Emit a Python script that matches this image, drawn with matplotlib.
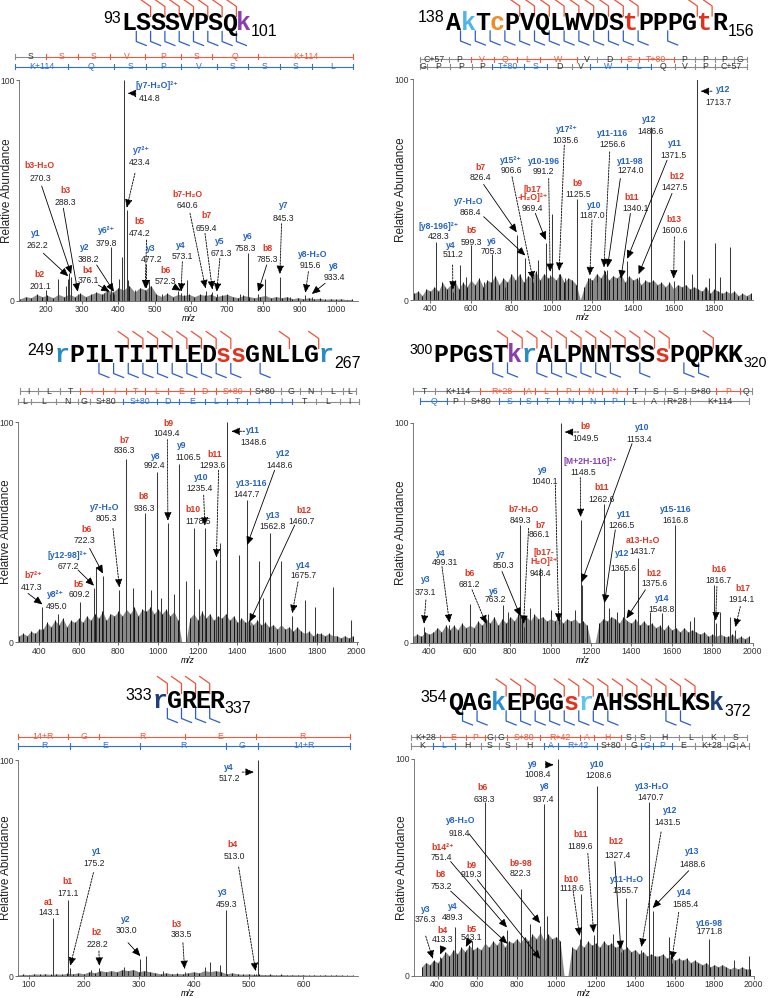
import numpy as np
import matplotlib.pyplot as plt
from matplotlib.lines import Line2D
from matplotlib.transforms import blended_transform_factory

plt.rcParams['font.family'] = ['Liberation Sans', 'DejaVu Sans']

W, H = 768, 998
RED = '#e2311d'
BLUE = '#2363c1'
PURPLE = '#8a3fae'
MARK_RED = '#ef5238'
MARK_BLUE = '#2c5fc6'
LAD_RED = '#ef5a3c'
LAD_BLUE = '#2f6fd6'
GREY = '#8c8c8c'

# ---------------- panel 1 : 93-101 ----------------
p1_seq = 'LSSSVPSQk'
p1_res_col = {8: PURPLE}
p1_range = (93, 101)
p1_bcut = [2, 3, 4, 5, 6, 7, 8]
p1_ycut = [1, 2, 3, 4, 5, 6, 7, 8]
p1_b_ticks = [115, 201.1, 288.3, 376.1, 474.2, 572.3, 659.4, 785.3, 1048]
p1_b_res = ['S', 'S', 'S', 'V', 'P', 'S', 'Q', 'K+114']
p1_b_hit = [0, 1, 1, 1, 1, 1, 1, 1]
p1_y_ticks = [115, 262.2, 388.2, 477.2, 573.1, 671.3, 758.3, 845.3, 933.4, 1048]
p1_y_res = ['K+114', 'Q', 'S', 'P', 'V', 'S', 'S', 'S', 'L']
p1_y_hit = [1, 1, 1, 1, 1, 1, 1, 1, 1]
p1_ions = ['[y7-H₂O]²⁺', 'y7²⁺', 'b3-H₂O', 'b3', 'y1', 'y2', 'y6²⁺', 'b2', 'b4',
           'b5', 'y3', 'b6', 'y4', 'b7-H₂O', 'b7', 'y5', 'y6', 'b8', 'y7',
           'y8-H₂O', 'y8']
p1_ion_mz = [414.8, 423.4, 270.3, 288.3, 262.2, 388.2, 379.8, 201.1, 376.1,
             474.2, 477.2, 572.3, 573.1, 640.6, 659.4, 671.3, 758.3, 785.3,
             845.3, 915.6, 933.4]
p1_ion_int = [100, 41, 11, 3, 10, 3, 24.5, 5, 3, 4.5, 4.5, 3.5, 3, 4.5, 4, 3,
              21.5, 3, 11, 2.5, 2]
p1_mz = [235, 256, 264, 361, 370, 403, 409, 427, 445, 486, 520, 564, 590, 735,
         804, 873]
p1_int = [10, 7, 12.5, 3.5, 5, 10, 20, 9.5, 5, 9, 3, 4.5, 9.5, 3, 10, 2]
p1_noise = [1, 2, 1.5, 3, 2, 2.5, 1.5, 3, 2,
            3, 2, 3.5, 2, 3, 4, 3, 5, 4, 6,
            5, 7, 4, 6, 5, 7,
            3, 2, 3.5, 2, 3, 2.5, 3, 2, 3, 2.5, 3, 2, 2.5, 3,
            2, 1.5, 2.5, 2, 1.5, 2, 2.5, 1.5, 2, 1.5, 2, 1, 1.5,
            1, 1.5, 1, 1.2, 0.8, 1, 0.8, 1, 0.6, 0.8]

# ---------------- panel 2 : 138-156 ----------------
p2_seq = 'AkTcPVQLWVDStPPPGtR'
p2_res_col = {1: '#4db6e6', 3: '#f08c28', 12: RED, 17: RED}
p2_range = (138, 156)
p2_bcut = [5, 6, 7, 8, 9, 10, 11, 12, 13, 17, 18]
p2_ycut = [1, 2, 3, 4, 5, 6, 7, 8, 9, 10, 11, 12, 13, 15]
p2_b_ticks = [347, 490, 599.3, 712.5, 826.4, 939, 1125.5, 1224, 1340.1, 1427.5,
              1600.6, 1707.6, 1806, 1897, 1962]
p2_b_res = ['C+57', 'P', 'V', 'Q', 'L', 'W', 'V', 'D', 'S', 'T+80', 'P', 'P',
            'P', 'G']
p2_b_hit = [0, 0, 1, 1, 1, 1, 0, 0, 1, 1, 0, 0, 0, 0]
p2_y_ticks = [347, 383, 498.7, 605.6, 705.3, 860.5, 975.7, 1099, 1187.0, 1371.5,
              1486.6, 1609, 1707.6, 1806, 1962]
p2_y_res = ['G', 'P', 'P', 'P', 'T+80', 'S', 'D', 'V', 'W', 'L', 'Q', 'V', 'P',
            'C+57']
p2_y_hit = [0, 0, 0, 0, 1, 1, 0, 0, 1, 1, 0, 0, 0, 0]
p2_ions = ['y12', '[y8-196]²⁺', 'y4', 'b5', 'y6', 'b7', 'y7-H₂O', 'y15²⁺',
           'y10-196', '[b17\n-H₂O]²⁺', 'y17²⁺', 'b9', 'y10', 'y11-116',
           'y11-98', 'b11', 'y12', 'y11', 'b12', 'b13']
p2_ion_mz = [1713.7, 428.3, 511.2, 599.3, 705.3, 826.4, 868.4, 906.6, 991.2,
             969.4, 1035.6, 1125.5, 1187.0, 1256.6, 1274.0, 1340.1, 1486.6,
             1371.5, 1427.5, 1600.6]
p2_ion_int = [100, 26.4, 3.5, 25, 21, 29.5, 19, 8, 11.5, 26, 12, 46, 10, 13.6,
              13.6, 8.5, 78.5, 17.5, 10.5, 8.5]
p2_mz = [474, 548, 578, 663, 770, 930, 1000, 1066, 1222, 1650, 1691, 1757,
         1773, 1806, 1831, 1880]
p2_int = [6, 16, 10.6, 8, 6, 18, 39, 10, 8, 27, 12, 6, 10, 26, 10.6, 24]
p2_noise = [3, 4, 2, 5, 4,
            6, 4, 8, 5, 7, 9, 5, 8, 6, 9,
            7, 10, 6, 9, 8, 11, 7, 10, 8, 12,
            9, 12, 8, 11, 10, 13, 9, 12, 10, 11,
            9, 12, 8, 10, 9,
            7, 0, 6, 10, 9, 12, 10, 13, 9, 11,
            10, 12, 8, 11, 9, 10, 7, 9, 8, 9,
            7, 8, 6, 8, 5, 7, 6, 7, 5, 6,
            5, 4, 6, 3, 5, 4, 3, 4, 3, 4, 2, 3, 2, 3]

# ---------------- panel 3 : 249-267 ----------------
p3_seq = 'rPILTIITLEDssGNLLGr'
p3_res_col = {0: '#2a8cc4', 11: RED, 12: RED, 18: '#2a8cc4'}
p3_range = (249, 267)
p3_bcut = [5, 6, 7, 8, 9, 10, 11, 12, 16, 18]
p3_ycut = [3, 4, 5, 6, 7, 8, 9, 10, 11, 12, 14]
p3_b_ticks = [303, 395, 504, 609.2, 722.3, 836.3, 936.3, 1049.4, 1178.5, 1293.6,
              1460.7, 1621, 1713, 1822, 1932, 1995]
p3_b_res = ['I', 'L', 'T', 'I', 'I', 'T', 'L', 'E', 'D', 'S+80', 'S+80', 'G',
            'N', 'L', 'L']
p3_b_hit = [0, 0, 0, 1, 1, 1, 1, 1, 1, 1, 0, 0, 0, 0, 0]
p3_y_ticks = [295, 362, 488, 597, 655, 823, 992.4, 1106.5, 1235.4, 1348.6,
              1448.6, 1562.8, 1675.7, 1797, 1915, 2012]
p3_y_res = ['L', 'L', 'N', 'G', 'S+80', 'S+80', 'D', 'E', 'L', 'T', 'I', 'I',
            'T', 'L', 'I']
p3_y_hit = [0, 0, 0, 0, 0, 1, 1, 1, 1, 1, 1, 1, 0, 0, 0]
p3_ions = ['b7²⁺', 'y8²⁺', '[y12-98]²⁺', 'b5', 'b6', 'y7-H₂O', 'b7', 'b8', 'y8',
           'b9', 'y9', 'b11', 'y10', 'b10', 'y11', 'y12', 'y13-116', 'y13',
           'b12', 'y14']
p3_ion_mz = [417.3, 495.0, 677.2, 609.2, 722.3, 805.3, 836.3, 936.3, 992.4,
             1049.4, 1106.5, 1293.6, 1235.4, 1178.5, 1348.6, 1448.6, 1447.7,
             1562.8, 1460.7, 1675.7]
p3_ion_int = [16, 13, 24.5, 18.4, 30, 23.7, 83.4, 58.5, 77.3, 54, 81, 37.3,
              51.7, 51.7, 100, 43, 64.5, 49.4, 8, 12]
p3_mz = [689, 873.8, 966, 1016, 1080, 1142, 1205, 1310, 1408, 1508, 1530, 1621,
         1738, 1789, 1881, 1973.5]
p3_int = [34, 24.5, 23.7, 20, 22, 28, 24, 45, 39.6, 37, 20, 37, 19, 16, 25, 10]
p3_noise = [3, 4, 3, 5, 4, 6,
            6, 9, 7, 10, 8, 11, 7, 10, 9, 11,
            9, 12, 10, 13, 11, 14, 10, 13, 12, 14,
            12, 15, 13, 16, 12, 15, 14, 16, 13, 15,
            13, 15, 12, 14, 10,
            0, 0,
            11, 13, 10, 14, 11, 13, 10, 12,
            11, 13, 10, 12, 9, 11, 9, 10, 8, 10,
            8, 9, 7, 8, 6, 8, 6, 7, 5, 7,
            5, 4, 5, 3, 4, 4, 3, 4, 3, 3, 2, 3, 2, 3]

# ---------------- panel 4 : 300-320 ----------------
p4_seq = 'PPGSTkrALPNNTSSsPQPKK'
p4_res_col = {5: PURPLE, 6: '#2a8cc4', 15: RED}
p4_range = (300, 320)
p4_bcut = [5, 6, 7, 8, 9, 10, 11, 12, 13, 14, 15, 16, 19]
p4_ycut = [4, 5, 7, 8, 9, 10, 11, 12, 14, 17, 18]
p4_b_ticks = [319, 429.5, 652, 866.1, 924, 1031.6, 1138.8, 1254, 1375.6,
              1468.7, 1567.7, 1666.7, 1816.7, 1939, 1996.6]
p4_b_res = ['T', 'K+114', 'R+28', 'A', 'L', 'P', 'N', 'N', 'T', 'S', 'S',
            'S+80', 'P', 'Q']
p4_b_hit = [0, 0, 1, 1, 1, 1, 1, 1, 0, 0, 0, 0, 1, 0]
p4_y_ticks = [355, 487, 569.8, 743, 850.3, 932.6, 1040.1, 1153.4, 1262.5,
              1365.6, 1460.5, 1559.4, 1691.4, 1980]
p4_y_res = ['Q', 'P', 'S+80', 'S', 'S', 'T', 'N', 'N', 'P', 'L', 'A', 'R+28',
            'K+114']
p4_y_hit = [1, 0, 0, 1, 1, 1, 1, 1, 1, 0, 0, 0, 0]
p4_ions = ['y3', 'y4', 'b6', 'y6', 'y7', 'b7-H₂O', 'b7', '[b17-\nH₂O]²⁺', 'y9',
           'b9', '[M+2H-116]²⁺', 'y10', 'b11', 'y11', 'y12', 'a13-H₂O', 'b12',
           'y15-116', 'y14', 'b16', 'b17']
p4_ion_mz = [373.1, 499.31, 681.2, 763.2, 850.3, 849.3, 866.1, 948.4, 1040.1,
             1049.5, 1148.5, 1153.4, 1262.6, 1266.5, 1365.6, 1431.7, 1375.6,
             1616.8, 1548.8, 1816.7, 1914.1]
p4_ion_int = [7.5, 8, 7.5, 17.4, 11, 53.6, 7.5, 34, 8.5, 100, 56, 26.4, 63.4,
              17, 33, 38.5, 10, 53.6, 13.6, 9, 6]
p4_mz = [602.7, 690, 790, 900, 1000, 1122, 1290, 1328, 1490, 1690, 1708, 1807,
         1840, 1889]
p4_int = [17.8, 13, 14, 16, 15, 15, 16, 14, 14, 10, 12, 26.4, 14, 12]
p4_noise = [3, 4, 3, 5, 4,
            5, 7, 5, 8, 6, 8, 6, 9, 7, 8,
            7, 10, 8, 11, 9, 12, 8, 11, 9, 12,
            10, 13, 11, 12, 10, 13, 11, 12, 10, 11,
            10, 12, 9, 11, 10, 11, 9, 10, 8,
            0, 0,
            9, 11, 10, 12,
            11, 9, 12, 10, 9, 11, 8, 10, 8, 9,
            7, 8, 6, 8, 6, 7, 5, 7, 5, 6,
            5, 4, 5, 3, 4, 3, 4, 3, 3, 4, 2, 3, 2, 3]

# ---------------- panel 5 : 333-337 ----------------
p5_seq = 'rGRER'
p5_res_col = {0: '#1f3f7a'}
p5_range = (333, 337)
p5_bcut = [1, 2, 3, 4]
p5_ycut = [1, 2, 3, 4]
p5_b_ticks = [80, 171.1, 228.2, 383.5, 513.0, 684.5]
p5_b_res = ['14+R', 'G', 'R', 'E', 'R']
p5_b_hit = [1, 1, 1, 1, 1]
p5_y_ticks = [80, 175.2, 303.0, 459.3, 517.2, 684.5]
p5_y_res = ['R', 'E', 'R', 'G', '14+R']
p5_y_hit = [1, 1, 1, 1, 1]
p5_ions = ['a1', 'b1', 'y1', 'b2', 'y2', 'b3', 'y3', 'b4', 'y4']
p5_ion_mz = [143.1, 171.1, 175.2, 228.2, 303.0, 383.5, 459.3, 513.0, 517.2]
p5_ion_int = [26.7, 35.3, 3.5, 3.5, 8, 2, 30.5, 1, 100]
p5_mz = [213.6, 272.5, 280.4, 312.6, 344, 420, 430.4, 448.6]
p5_int = [3, 4, 2.5, 9.4, 2.5, 4, 6.6, 5]
p5_noise = [0.5, 0.8, 0.6, 1, 0.8, 1, 0.7, 1, 0.8, 1.2, 1, 1.5, 1,
            2, 1.5, 2.5, 2, 2.5, 2, 3, 2.5, 3, 2, 2.5, 2,
            1.5, 1, 1.5, 1, 1.2, 1, 1.5, 2, 1.5, 2.5, 2, 2.5, 2,
            1, 1.5, 1, 0.8, 1, 0.7, 0.8, 0.6, 0.8, 0.5, 0.7, 0.5, 0.6, 0.5,
            0.6, 0.4, 0.5, 0.4, 0.5, 0.4, 0.5, 0.4, 0.3, 0.4]

# ---------------- panel 6 : 354-372 ----------------
p6_seq = 'QAGkEPGGsrAHSSHLKSk'
p6_res_col = {3: '#2a8fd4', 8: RED, 9: '#5cc6ee', 18: '#1f3f7a'}
p6_range = (354, 372)
p6_bcut = [4, 5, 6, 8, 9, 10, 11, 12, 13, 14, 15, 16, 17]
p6_ycut = [1, 2, 4, 5, 6, 7, 8, 9, 10, 11, 15, 16]
p6_b_ticks = [264, 413.3, 543.1, 638.3, 690.5, 753.2, 919.3, 1118.6, 1189.6,
              1327.4, 1401.3, 1477.1, 1620.3, 1738.2, 1847.7, 1965.6]
p6_b_res = ['K+28', 'E', 'P', 'G', 'G', 'S+80', 'R+42', 'A', 'H', 'S', 'S',
            'H', 'L', 'K', 'S']
p6_b_hit = [0, 1, 1, 0, 0, 1, 1, 1, 1, 0, 0, 0, 0, 0, 0]
p6_y_ticks = [264, 376.3, 489.3, 618.1, 710.7, 794.9, 937.4, 1008.4, 1208.6,
              1350.8, 1431.5, 1488.6, 1585.4, 1704.5, 1864.5, 1915, 1974]
p6_y_res = ['K', 'L', 'H', 'S', 'S', 'H', 'A', 'R+42', 'S+80', 'G', 'G', 'P',
            'E', 'K+28', 'G', 'A']
p6_y_hit = [0, 1, 0, 0, 0, 0, 1, 1, 0, 0, 1, 1, 0, 0, 0, 0]
p6_ions = ['y9', 'y8', 'y10', 'y13-H₂O', 'y12', 'b6', 'y8-H₂O', 'b14²⁺', 'b9',
           'b9-98', 'b8', 'b11', 'b12', 'b10', 'y11-H₂O', 'y13', 'y14',
           'y16-98', 'y3', 'y4', 'b4', 'b5']
p6_ion_mz = [1008.4, 937.4, 1208.6, 1470.7, 1431.5, 638.3, 918.4, 751.4, 919.3,
             822.3, 753.2, 1189.6, 1327.4, 1118.6, 1355.7, 1488.6, 1585.4,
             1771.8, 376.3, 489.3, 413.3, 543.1]
p6_ion_int = [100, 79, 87.4, 80, 12, 80, 23, 21, 6.5, 39.8, 13.5, 18.5, 11, 17,
              36, 30, 6, 17, 6.5, 22.4, 8.5, 12]
p6_mz = [575, 870, 951.6, 1125, 1288, 1569.7, 1898, 1974]
p6_int = [16, 24, 27.7, 37.5, 19, 17.9, 7, 8.8]
p6_noise = [4, 6, 5, 7, 6,
            8, 11, 9, 12, 10, 13, 11, 14, 12, 13,
            12, 15, 13, 16, 14, 17, 13, 16, 15, 17,
            15, 18, 16, 19, 17, 20, 16, 19, 17, 18,
            16,
            0, 0,
            13, 12, 15, 13, 16, 14, 15, 13, 16, 14, 15, 13,
            14, 12, 13, 11, 12, 10, 11, 9, 10, 9,
            9, 10, 8, 9, 7, 8, 7, 8, 6, 7,
            6, 5, 6, 4, 5, 4, 5, 4, 3, 4, 3, 4, 3, 3]

# ---------------- layout (label name xy, value xy, arrow tail xy, style) ----
N = (None, None, None)
p1_lab = [(506, 97.3, 487.5, 91.7, 446, 94, 'h'),
          (464.5, 67.9, 460, 62.6, 446, 57.8, ':'),
          (181.6, 61.1, 186, 55.5, 189, 52, '-'),
          (254, 50.2, 255, 44.6, 248.7, 42, '-'),
          (172, 30.6, 178, 25.3, 193.6, 21.6, '-'),
          (308, 24.1, 317.6, 18.6, 340.5, 16.3, '-'),
          (368, 31.8, 368, 26.1) + N,
          (181.6, 11.8, 184.4, 6.5) + N,
          (315, 14, 317.6, 9.5, 345, 7.2, '-'),
          (458, 35.9, 460, 30.6, 478, 27.6, ':'),
          (489, 23.8, 492, 18.6, 478, 16.3, ':'),
          (529, 14, 529, 9, 552, 6.5, '-'),
          (572, 25.3, 576.6, 20, 576.6, 17.8, ':'),
          (591, 48, 591, 43, 597.7, 39.7, ':'),
          (643.6, 38.5, 643.6, 32.9, 639, 30.6, ':'),
          (680, 26.8, 685, 21.6, 680, 19.3, ':'),
          (755.7, 29.1, 751, 23.8) + N,
          (811, 23.8, 811, 19, 809, 16.3, '-'),
          (855, 43, 855, 37.4, 850, 35, ':'),
          (935, 21.1, 928, 16.1, 924, 13.3, ':'),
          (994.5, 15.5, 994.5, 10.6, 970, 8, '-')]
p2_lab = [(1847, 95.5, 1823, 89.6, 1790, 94.7, 'h'),
          (441, 33.5, 441, 28.7) + N,
          (500, 24.8, 510, 20.6, 510, 15.9, ':'),
          (600.7, 31.3, 600.7, 26.1) + N,
          (704, 26.7, 699, 21.9) + N,
          (646.7, 60, 646.7, 55.4, 663, 52.4, '-'),
          (589, 44.6, 597, 39.6, 663, 37.8, '-'),
          (798, 63.4, 798, 58.6, 803, 55.9, ':'),
          (962.5, 63, 956, 58.2, 984, 55.1, ':'),
          (905, 48.3, 901.6, 41.5, 918, 39.3, '-'),
          (1074, 77.3, 1066, 72.5, 1061, 70.2, ':'),
          (1127, 52.9, 1132, 47.9) + N,
          (1206, 43, 1197.7, 38.5, 1197.7, 36.3, ':'),
          (1301, 75.5, 1301, 70.7, 1285, 67.2, ':'),
          (1387, 62.7, 1387, 58.6, 1337.5, 55.1, '-'),
          (1395, 46.4, 1411.5, 41.5, 1387, 39.3, '-'),
          (1480.6, 81.9, 1485.5, 76.3) + N,
          (1609, 71, 1600.7, 65.4, 1568, 63.4, '-'),
          (1617, 55.9, 1604, 51, 1592.4, 48.3, '-'),
          (1600.7, 36.3, 1604, 31.7, 1604, 28.7, ':')]
p3_lab = [(370, 30.5, 361.7, 24.8, 345, 22.2, '-'),
          (484, 21.5, 491, 16.2) + N,
          (546, 39.6, 546, 34.3, 597, 32.8, '-'),
          (597, 26.4, 605, 21.5) + N,
          (638.7, 51.2, 630, 46.4, 655.5, 42.6, '-'),
          (731, 61, 739.4, 56.2, 773, 51.7, ':'),
          (831.8, 91.7, 831.8, 87.2) + N,
          (927.5, 66.3, 932.5, 60.7) + N,
          (986, 84.4, 983, 80.4) + N,
          (1050, 99.2, 1041.7, 94.7, 1046.7, 92, ':'),
          (1117, 89.4, 1151, 84.1) + N,
          (1285, 85.2, 1276.7, 80.4, 1305, 78.1, ':'),
          (1218, 74.8, 1209.5, 69.8, 1229.7, 66.8, ':'),
          (1176, 60.4, 1201, 54.7) + N,
          (1478, 96.2, 1483, 90.9, 1436, 95.8, 'h'),
          (1629, 85.6, 1612.5, 80.4, 1587, 78.1, '-'),
          (1470, 72, 1444.6, 67.2) + N,
          (1579, 57.7, 1575.6, 52.4) + N,
          (1733.4, 60, 1721.6, 54.7, 1688, 53.2, '-'),
          (1730, 35, 1730, 30.5, 1705, 27.5, ':')]
p4_lab = [(380, 28.7, 380, 23.1, 383, 19.6, ':'),
          (457.6, 40.5, 479, 36.7, 462.5, 34.7, ':'),
          (599, 31.7, 599, 26.7, 611, 24.2, ':'),
          (718, 23.4, 726, 19.6) + N,
          (751, 39.7, 767.7, 35.2, 759.4, 32.5, '-'),
          (866.7, 60.7, 850, 55.9) + N,
          (949, 53.6, 946, 49.1, 891, 52.1, ':'),
          (965.6, 39.1, 949, 31.7) + N,
          (962.3, 78.2, 969, 73.6, 1023.5, 71.8, ':'),
          (1171.8, 98.5, 1171.8, 92.9, 1139, 95.9, 'h'),
          (1196.5, 82.6, 1163.6, 77.3, 1147, 75.2, ':'),
          (1452, 97.9, 1440.7, 92.4, 1402.7, 90.6, '-'),
          (1254.3, 70.5, 1254.3, 65.3) + N,
          (1361.5, 58.2, 1353, 53.2, 1320, 51.4, '-'),
          (1353, 40.8, 1358, 34) + N,
          (1457, 46.8, 1457, 41.5) + N,
          (1513, 31.7, 1513, 27.2, 1469, 24.2, '-'),
          (1617, 60.7, 1617, 55.6) + N,
          (1551, 20.4, 1551, 15.4) + N,
          (1831.6, 33.2, 1831.6, 28.2, 1823, 25.7, ':'),
          (1952, 24.9, 1947, 19.6, 1939, 16.6, ':')]
p5_lab = [(136.5, 34, 136.5, 29.3) + N,
          (171.1, 43.7, 171.1, 38.4) + N,
          (224, 57.7, 219.5, 52, 217.5, 47.9, ':'),
          (222.5, 20.2, 225.5, 14.7, 227.5, 11.6, ':'),
          (276, 26, 277.5, 21.1, 280.5, 15.4, '-'),
          (369.5, 23.7, 377.5, 19.2, 380.5, 15.4, ':'),
          (453.5, 38.8, 459.5, 33.2) + N,
          (471.5, 60.7, 474.5, 55.4, 482, 50.5, ':'),
          (464.5, 96.7, 465.5, 91.4, 488.5, 94.4, 'h')]
p6_lab = [(879.2, 97.6, 907.8, 93, 946.5, 97.3, 'h'),
          (941.5, 87.4, 934.7, 81.4) + N,
          (1207.6, 97.3, 1216, 92.3) + N,
          (1485.5, 87.4, 1477, 82.1) + N,
          (1578, 76.1, 1561.3, 70.8, 1531, 66.3, ':'),
          (626.5, 86.7, 638.3, 81.4) + N,
          (517, 71.6, 508.6, 65.8, 559, 65.5, '-'),
          (424.4, 59, 419.3, 54.6, 466.5, 52.6, '-'),
          (570.9, 50.7, 570.9, 46.6, 601, 44.3, '-'),
          (820, 51.9, 820, 47) + N,
          (416, 46.6, 419.3, 41.3, 466.5, 39, '-'),
          (1123.4, 65, 1123.4, 59.5, 1160.4, 56.4, ':'),
          (1303.6, 61.7, 1308.6, 55.4, 1296.9, 52.6, '-'),
          (1076.2, 44.3, 1081.3, 40.2, 1086.3, 39, ':'),
          (1359, 44.3, 1350.6, 39.3) + N,
          (1687.6, 57.5, 1687.6, 51.4, 1670.8, 48.4, '-'),
          (1645.5, 38.3, 1653.8, 33, 1620.3, 29.2, ':'),
          (1776.9, 24.2, 1776.9, 20.1) + N,
          (340.2, 30.7, 340.2, 25.7, 340.2, 18.2, ':'),
          (475, 31.9, 475, 26.9) + N,
          (424.4, 20.6, 424.4, 16.6, 429.4, 13.3, '-'),
          (570.9, 21.3, 570.9, 17.5, 554.1, 15.1, '-')]

fig = plt.figure(figsize=(W / 100, H / 100), dpi=100)


def fx(px):
    return px / W


def fy(py):
    return 1 - py / H


def ion_color(name):
    if name.startswith('y') or name.startswith('[y'):
        return BLUE
    if name.startswith('[M'):
        return PURPLE
    return RED


def make_axes(rect, xlim, xticks):
    l, t, r, b = rect
    ax = fig.add_axes([fx(l), fy(b), (r - l) / W, (b - t) / H])
    ax.set_xticks(xticks)
    ax.set_yticks([0, 100])
    for s in ['top', 'right']:
        ax.spines[s].set_visible(False)
    for s in ['left', 'bottom']:
        ax.spines[s].set_color('#666666')
        ax.spines[s].set_linewidth(0.6)
    ax.tick_params(labelsize=6.2, length=2, width=0.5, pad=1.2,
                   colors='#333333')
    ax.set_xlabel('m/z', fontsize=6.2, style='italic', labelpad=0)
    ax.set_ylabel('Relative Abundance', fontsize=8.5, color='#222222')
    ax.yaxis.set_label_coords(-0.018, 0.5)
    return ax


def spectrum(ax, noise, n0, step, mz, inten, ion_mz, ion_int):
    xs = np.arange(len(noise)) * step + n0
    ax.fill_between(xs, 0, noise, color='#8a8a8a', lw=0)
    ax.vlines(xs, 0, noise, color='#151515', lw=0.7)
    ax.vlines(mz, 0, inten, color='#3a3a3a', lw=0.75)
    ax.vlines(ion_mz, 0, ion_int, color='#3a3a3a', lw=0.75)


def annotate(ax, names, mzs, ints, labs):
    x0, x1 = ax.get_xlim()
    gap = 0.012 * (x1 - x0)
    for name, mz, it, lab in zip(names, mzs, ints, labs):
        nx, ny, vx, vy, tx, ty, st = lab
        ax.text(nx, ny, name, color=ion_color(name), fontweight='bold',
                fontsize=6.2, ha='center', va='center', linespacing=0.95)
        ax.text(vx, vy, str(mz), color='#222222', fontsize=6.2,
                ha='center', va='center')
        if st is None:
            continue
        if st == 'h':
            head = (mz + (gap if tx > mz else -gap), ty)
            ls = (0, (2.2, 1.4))
        else:
            head = (mz, it + 1.2)
            ls = '-' if st == '-' else (0, (2.2, 1.4))
        ax.annotate('', xy=head, xytext=(tx, ty),
                    arrowprops=dict(arrowstyle='-|>,head_length=0.5,head_width=0.22',
                                    color='black', lw=0.6, linestyle=ls,
                                    shrinkA=0, shrinkB=0))


def ladder(ax, ticks, res, hits, ypx, col):
    tr = blended_transform_factory(ax.transData, fig.transFigure)
    y = fy(ypx)
    dy = 2.6 / H
    for i, lab in enumerate(res):
        c = col if hits[i] else GREY
        fig.add_artist(Line2D([ticks[i], ticks[i + 1]], [y, y], transform=tr,
                              color=c, lw=0.8))
        fig.text((ticks[i] + ticks[i + 1]) / 2, y, lab, transform=tr,
                 ha='center', va='center', fontsize=6.3,
                 color=col if hits[i] else '#333333')
    for k, t in enumerate(ticks):
        left = hits[k - 1] if k > 0 else 0
        right = hits[k] if k < len(hits) else 0
        c = col if (left or right) else GREY
        fig.add_artist(Line2D([t, t], [y - dy, y + dy], transform=tr,
                              color=c, lw=0.8))


def header(seq, cols, rng, x0, step, yc, bcut, ycut, numsize=11.5):
    for i, ch in enumerate(seq):
        fig.text(fx(x0 + step * (i + 0.5)), fy(yc + 7), ch, ha='center',
                 va='baseline', fontsize=18, fontweight='bold',
                 family='Liberation Mono', color=cols.get(i, 'black'))
    fig.text(fx(x0 - 1), fy(yc - 5), str(rng[0]), ha='right', va='center',
             fontsize=numsize)
    fig.text(fx(x0 + step * len(seq) + 0.5), fy(yc + 8), str(rng[1]),
             ha='left', va='center', fontsize=numsize)
    for j in bcut:
        gx = x0 + step * j
        fig.add_artist(Line2D([fx(gx - 10), fx(gx), fx(gx)],
                              [fy(yc - 24), fy(yc - 17), fy(yc - 7)],
                              transform=fig.transFigure, color=MARK_RED,
                              lw=0.9))
    for j in ycut:
        gx = x0 + step * j
        fig.add_artist(Line2D([fx(gx), fx(gx), fx(gx + 10)],
                              [fy(yc + 8), fy(yc + 18), fy(yc + 22)],
                              transform=fig.transFigure, color=MARK_BLUE,
                              lw=0.9))


panels = [
    dict(rect=(19, 80, 358, 301), xlim=(126.5, 1060.6),
         xticks=range(200, 1001, 100), noise=p1_noise, n0=130, step=15,
         mz=p1_mz, inten=p1_int, ions=p1_ions, ion_mz=p1_ion_mz,
         ion_int=p1_ion_int, lab=p1_lab,
         lad=(p1_b_ticks, p1_b_res, p1_b_hit, 56.5,
              p1_y_ticks, p1_y_res, p1_y_hit, 66.5),
         head=(p1_seq, p1_res_col, p1_range, 122, 14.3, 23.5, p1_bcut, p1_ycut)),
    dict(rect=(413, 79.5, 753, 300), xlim=(314.5, 1992),
         xticks=range(400, 2001, 200), noise=p2_noise, n0=320, step=20,
         mz=p2_mz, inten=p2_int, ions=p2_ions, ion_mz=p2_ion_mz,
         ion_int=p2_ion_int, lab=p2_lab,
         lad=(p2_b_ticks, p2_b_res, p2_b_hit, 59.3,
              p2_y_ticks, p2_y_res, p2_y_hit, 66.7),
         head=(p2_seq, p2_res_col, p2_range, 445.7, 14.8, 23, p2_bcut, p2_ycut)),
    dict(rect=(18, 422, 358, 642.3), xlim=(294.5, 2007),
         xticks=range(400, 2001, 200), noise=p3_noise, n0=300, step=20,
         mz=p3_mz, inten=p3_int, ions=p3_ions, ion_mz=p3_ion_mz,
         ion_int=p3_ion_int, lab=p3_lab,
         lad=(p3_b_ticks, p3_b_res, p3_b_hit, 391,
              p3_y_ticks, p3_y_res, p3_y_hit, 401.7),
         head=(p3_seq, p3_res_col, p3_range, 55, 14.65, 355.5, p3_bcut, p3_ycut)),
    dict(rect=(413, 423, 753, 643), xlim=(319, 2001.5),
         xticks=range(400, 2001, 200), noise=p4_noise, n0=320, step=20,
         mz=p4_mz, inten=p4_int, ions=p4_ions, ion_mz=p4_ion_mz,
         ion_int=p4_ion_int, lab=p4_lab,
         lad=(p4_b_ticks, p4_b_res, p4_b_hit, 391,
              p4_y_ticks, p4_y_res, p4_y_hit, 401),
         head=(p4_seq, p4_res_col, p4_range, 434, 14.7, 355, p4_bcut, p4_ycut,
               10.2)),
    dict(rect=(18, 760, 358, 976), xlim=(80, 699.5),
         xticks=range(100, 701, 100), noise=p5_noise, n0=80, step=10,
         mz=p5_mz, inten=p5_int, ions=p5_ions, ion_mz=p5_ion_mz,
         ion_int=p5_ion_int, lab=p5_lab,
         lad=(p5_b_ticks, p5_b_res, p5_b_hit, 736.7,
              p5_y_ticks, p5_y_res, p5_y_hit, 746),
         head=(p5_seq, p5_res_col, p5_range, 153.3, 14.1, 700.5, p5_bcut, p5_ycut)),
    dict(rect=(414, 759, 754, 975.5), xlim=(281, 2001),
         xticks=range(400, 2001, 200), noise=p6_noise, n0=320, step=20,
         mz=p6_mz, inten=p6_int, ions=p6_ions, ion_mz=p6_ion_mz,
         ion_int=p6_ion_int, lab=p6_lab,
         lad=(p6_b_ticks, p6_b_res, p6_b_hit, 737.3,
              p6_y_ticks, p6_y_res, p6_y_hit, 746),
         head=(p6_seq, p6_res_col, p6_range, 448, 14.53, 703, p6_bcut, p6_ycut)),
]

for p in panels:
    ax = make_axes(p['rect'], p['xlim'], p['xticks'])
    spectrum(ax, p['noise'], p['n0'], p['step'], p['mz'], p['inten'],
             p['ion_mz'], p['ion_int'])
    ax.set_xlim(*p['xlim'])
    ax.set_ylim(0, 100)
    annotate(ax, p['ions'], p['ion_mz'], p['ion_int'], p['lab'])
    bt, br, bh, by, yt, yr, yh, yy = p['lad']
    ladder(ax, bt, br, bh, by, LAD_RED)
    ladder(ax, yt, yr, yh, yy, LAD_BLUE)
    header(*p['head'])

fig.savefig('out.png', dpi=100)
